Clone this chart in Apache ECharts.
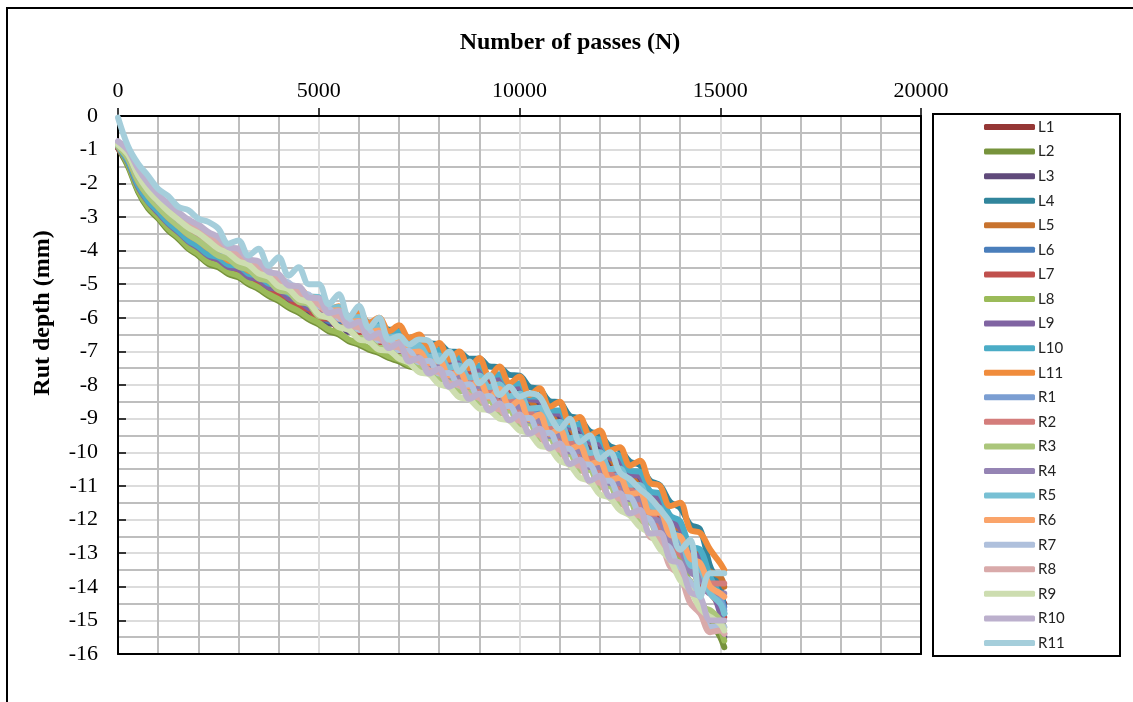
<!DOCTYPE html>
<html><head><meta charset="utf-8">
<script src="https://cdn.jsdelivr.net/npm/echarts@6/dist/echarts.min.js"></script>
<style>html,body{margin:0;padding:0;background:#fff}#c{width:1133px;height:702px}</style>
</head><body><div id="c"></div>
<script>
const passes = [0,250,500,750,1000,1250,1500,1750,2000,2250,2500,2750,3000,3250,3500,3750,4000,4250,4500,4750,5000,5250,5500,5750,6000,6250,6500,6750,7000,7250,7500,7750,8000,8250,8500,8750,9000,9250,9500,9750,10000,10250,10500,10750,11000,11250,11500,11750,12000,12250,12500,12750,13000,13250,13500,13750,14000,14250,14500,14750,15000,15100];
const xTicks = [0,5000,10000,15000,20000];
const yTicks = [0,-1,-2,-3,-4,-5,-6,-7,-8,-9,-10,-11,-12,-13,-14,-15,-16];
const names = ['L1','L2','L3','L4','L5','L6','L7','L8','L9','L10','L11','R1','R2','R3','R4','R5','R6','R7','R8','R9','R10','R11'];
const colors = ['#953735','#77933C','#604A7B','#31859C','#C8732E','#4A7EBB','#C0504D','#9BBB59','#8064A2','#4BACC6','#F08C3C','#7B9ED2','#D47D7B','#ABC67B','#9584B4','#78C0D4','#FAA46A','#AFC0DC','#D9AAAA','#CDDDB0','#BCB0CD','#A5CEDB'];
const xTitle = 'Number of passes (N)';
const yTitle = 'Rut depth (mm)';

const L1 = [-0.9,-1.35,-2.05,-2.5,-2.85,-3.12,-3.45,-3.65,-3.92,-4.08, -4.3,-4.4,-4.62,-4.7,-4.95,-5.02,-5.3,-5.36,-5.64,-5.7, -5.98,-6.02,-6.3,-6.32,-6.6,-6.55,-6.8,-6.75,-7.0,-7.0, -7.25,-7.22,-7.55,-7.42,-7.8,-7.7,-8.1,-8.0,-8.4,-8.28, -8.7,-8.62,-9.12,-9.05,-9.55,-9.5,-10.0,-9.95,-10.48,-10.42, -10.95,-10.9,-11.45,-11.45,-12.1,-12.2,-12.9,-13.05,-13.75,-13.9, -14.3,-14.5];
const L2 = [-0.95,-1.5,-2.25,-2.75,-3.05,-3.4,-3.65,-3.95,-4.15,-4.4, -4.5,-4.7,-4.8,-5.0,-5.15,-5.35,-5.5,-5.7,-5.85,-6.05, -6.2,-6.4,-6.5,-6.7,-6.8,-6.95,-7.05,-7.2,-7.3,-7.45, -7.5,-7.55,-7.8,-7.85,-8.1,-8.15,-8.35,-8.4,-8.6,-8.65, -8.85,-8.95,-9.3,-9.35,-9.75,-9.8,-10.2,-10.3,-10.7,-10.75, -11.15,-11.25,-11.7,-11.95,-12.5,-12.85,-13.5,-13.95,-14.6,-15.0, -15.5,-15.8];
const L3 = [-0.95,-1.42,-2.15,-2.63,-2.94,-3.27,-3.52,-3.81,-4.0,-4.24, -4.35,-4.58,-4.65,-4.9,-5.0,-5.24,-5.32,-5.58,-5.66,-5.92, -5.95,-6.18,-6.18,-6.42,-6.4,-6.62,-6.58,-6.8,-6.75,-7.05, -7.0,-7.22,-7.22,-7.48,-7.45,-7.72,-7.65,-7.98,-7.9,-8.15, -8.12,-8.52,-8.55,-8.95,-8.95,-9.38,-9.38,-9.82,-9.85,-10.28, -10.32,-10.75,-10.8,-11.35,-11.45,-12.05,-12.2,-12.85,-13.1,-13.8, -14.6,-15.5];
const L4 = [-0.85,-1.32,-2.03,-2.47,-2.8,-3.12,-3.37,-3.64,-3.82,-4.06, -4.18,-4.38,-4.45,-4.66,-4.72,-4.95,-5.02,-5.24,-5.28,-5.5, -5.55,-5.76,-5.74,-5.95,-5.93,-6.14,-6.13,-6.36,-6.35,-6.6, -6.58,-6.76,-6.78,-7.0,-7.02,-7.22,-7.22,-7.45,-7.47,-7.7, -7.72,-8.06,-8.12,-8.48,-8.52,-8.92,-9.0,-9.38,-9.47,-9.82, -9.92,-10.28,-10.38,-10.84,-10.98,-11.48,-11.65,-12.15,-12.3,-13.4, -14.0,-14.8];
const L5 = [-0.9,-1.23,-1.9,-2.32,-2.66,-2.96,-3.22,-3.47,-3.65,-3.87, -4.0,-4.25,-4.32,-4.56,-4.63,-4.88,-4.96,-5.22,-5.28,-5.55, -5.55,-5.78,-5.8,-6.03,-6.05,-6.27,-6.25,-6.5,-6.52,-6.76, -6.84,-7.05,-7.1,-7.33,-7.35,-7.57,-7.6,-7.86,-7.86,-8.12, -8.38,-8.44,-8.8,-8.84,-9.22,-9.27,-9.66,-9.7,-10.12,-10.17, -10.58,-10.64,-11.05,-11.2,-11.7,-11.88,-12.48,-12.68,-13.3,-13.55, -13.7,-14.0];
const L6 = [-0.9,-1.37,-2.1,-2.54,-2.9,-3.17,-3.48,-3.7,-3.95,-4.13, -4.32,-4.44,-4.64,-4.73,-4.98,-5.07,-5.33,-5.4,-5.67,-5.74, -5.9,-6.1,-6.13,-6.36,-6.38,-6.58,-6.6,-6.8,-6.83,-7.07, -7.06,-7.27,-7.3,-7.52,-7.53,-7.78,-7.8,-8.06,-8.03,-8.28, -8.4,-8.76,-8.8,-9.18,-9.22,-9.63,-9.66,-10.08,-10.12,-10.56, -10.6,-11.02,-11.06,-11.62,-11.7,-12.33,-12.5,-13.18,-13.3,-14.0, -14.3,-14.6];
const L7 = [-0.95,-1.39,-2.13,-2.59,-2.92,-3.23,-3.5,-3.76,-3.97,-4.19, -4.35,-4.45,-4.67,-4.74,-5.01,-5.08,-5.35,-5.42,-5.7,-5.75, -6.02,-6.03,-6.28,-6.28,-6.53,-6.49,-6.75,-6.72,-6.96,-6.97, -7.22,-7.18,-7.46,-7.4,-7.7,-7.66,-7.98,-7.94,-8.2,-8.18, -8.66,-8.72,-9.1,-9.14,-9.53,-9.58,-9.98,-10.03,-10.46,-10.5, -10.94,-10.98,-11.45,-11.58,-12.15,-12.36,-13.08,-13.28,-14.0,-14.2, -14.6,-14.9];
const L8 = [-0.9,-1.45,-2.2,-2.7,-3.0,-3.35,-3.6,-3.9,-4.1,-4.35, -4.45,-4.65,-4.75,-4.95,-5.1,-5.3,-5.45,-5.65,-5.8,-6.0, -6.15,-6.35,-6.45,-6.65,-6.75,-6.9,-7.0,-7.15,-7.25,-7.4, -7.45,-7.6,-7.65,-7.85,-7.85,-8.05,-8.1,-8.25,-8.3,-8.5, -8.6,-8.9,-9.0,-9.35,-9.45,-9.8,-9.9,-10.25,-10.35,-10.75, -10.85,-11.3,-11.45,-12.0,-12.2,-12.9,-13.2,-13.9,-14.4,-14.9, -15.3,-15.6];
const L9 = [-0.9,-1.37,-2.1,-2.55,-2.88,-3.2,-3.45,-3.73,-3.92,-4.16, -4.27,-4.49,-4.55,-4.78,-4.86,-5.09,-5.16,-5.4,-5.48,-5.71, -5.76,-5.97,-5.95,-6.17,-6.15,-6.35,-6.33,-6.56,-6.54,-6.8, -6.88,-7.08,-7.08,-7.3,-7.3,-7.52,-7.54,-7.78,-7.8,-8.06, -8.06,-8.42,-8.46,-8.84,-8.86,-9.26,-9.28,-9.7,-9.74,-10.16, -10.22,-10.65,-10.72,-11.27,-11.4,-12.02,-12.25,-12.95,-13.15,-13.9, -14.8,-15.4];
const L10 = [-0.9,-1.35,-2.06,-2.53,-2.84,-3.17,-3.42,-3.7,-3.88,-4.12, -4.2,-4.42,-4.45,-4.69,-4.75,-4.98,-5.03,-5.28,-5.34,-5.6, -5.6,-5.83,-5.8,-6.04,-6.0,-6.24,-6.2,-6.44,-6.42,-6.66, -6.75,-6.98,-6.96,-7.2,-7.18,-7.44,-7.42,-7.72,-7.68,-7.98, -7.95,-8.34,-8.35,-8.76,-8.76,-9.18,-9.17,-9.6,-9.62,-10.06, -10.1,-10.55,-10.58,-11.15,-11.24,-11.88,-12.05,-12.8,-12.9,-13.7, -14.3,-14.8];
const L11 = [-0.85,-1.26,-1.94,-2.37,-2.7,-3.02,-3.26,-3.53,-3.7,-3.94, -4.04,-4.3,-4.35,-4.6,-4.64,-4.9,-4.93,-5.2,-5.2,-5.5, -5.45,-5.75,-5.66,-5.96,-5.82,-6.16,-6.0,-6.4,-6.22,-6.6, -6.5,-6.95,-6.75,-7.25,-7.0,-7.5,-7.2,-7.75,-7.45,-7.95, -7.75,-8.3,-8.1,-8.65,-8.5,-9.1,-8.95,-9.5,-9.35,-9.95, -9.85,-10.4,-10.25,-10.9,-11.0,-11.6,-11.5,-12.3,-12.4,-12.9, -13.3,-13.5];
const R1 = [-0.85,-1.2,-1.84,-2.29,-2.62,-2.91,-3.17,-3.41,-3.59,-3.81, -3.95,-4.19,-4.26,-4.5,-4.58,-4.83,-4.9,-5.16,-5.22,-5.49, -5.54,-5.82,-5.83,-6.12,-6.12,-6.41,-6.4,-6.68,-6.67,-6.98, -6.97,-7.26,-7.26,-7.59,-7.58,-7.9,-7.88,-8.2,-8.15,-8.48, -8.45,-8.86,-8.88,-9.3,-9.3,-9.75,-9.75,-10.2,-10.23,-10.68, -10.7,-11.15,-11.18,-11.74,-11.8,-12.45,-12.6,-13.3,-13.45,-14.15, -14.4,-14.7];
const R2 = [-0.85,-1.17,-1.81,-2.22,-2.59,-2.84,-3.13,-3.34,-3.55,-3.73, -3.95,-4.05,-4.29,-4.37,-4.62,-4.7,-4.97,-5.03,-5.31,-5.36, -5.72,-5.76,-6.04,-6.06,-6.35,-6.35,-6.63,-6.62,-6.92,-6.92, -7.25,-7.22,-7.58,-7.55,-7.92,-7.86,-8.23,-8.16,-8.51,-8.44, -8.82,-8.82,-9.27,-9.24,-9.7,-9.7,-10.16,-10.15,-10.64,-10.64, -11.12,-11.12,-11.6,-11.7,-12.26,-12.4,-13.05,-13.2,-13.8,-13.9, -13.9,-13.9];
const R3 = [-0.9,-1.27,-1.93,-2.38,-2.71,-3.01,-3.27,-3.52,-3.71,-3.93, -4.15,-4.24,-4.48,-4.56,-4.83,-4.9,-5.18,-5.24,-5.53,-5.59, -5.95,-5.99,-6.28,-6.3,-6.6,-6.59,-6.9,-6.86,-7.17,-7.16, -7.5,-7.46,-7.84,-7.82,-8.2,-8.14,-8.54,-8.47,-8.84,-8.76, -9.18,-9.14,-9.62,-9.58,-10.06,-10.05,-10.55,-10.52,-11.04,-11.0, -11.55,-11.5,-12.05,-12.08,-12.72,-12.88,-13.66,-13.82,-14.58,-14.7, -15.0,-15.2];
const R4 = [-0.8,-1.14,-1.77,-2.17,-2.54,-2.79,-3.08,-3.28,-3.49,-3.67, -3.82,-4.08,-4.14,-4.4,-4.46,-4.73,-4.8,-5.08,-5.14,-5.43, -5.52,-5.84,-5.84,-6.15,-6.14,-6.45,-6.42,-6.72,-6.7,-7.04, -7.08,-7.4,-7.38,-7.75,-7.72,-8.06,-8.02,-8.38,-8.3,-8.66, -8.64,-9.06,-9.07,-9.52,-9.5,-9.98,-9.96,-10.44,-10.44,-10.92, -10.92,-11.4,-11.4,-11.98,-12.05,-12.72,-12.85,-13.55,-13.75,-14.2, -14.2,-14.2];
const R5 = [-0.85,-1.11,-1.71,-2.14,-2.47,-2.76,-3.01,-3.25,-3.41,-3.63, -3.77,-4.01,-4.08,-4.34,-4.4,-4.68,-4.74,-5.02,-5.08,-5.37, -5.38,-5.72,-5.68,-6.02,-5.98,-6.3,-6.26,-6.58,-6.54,-6.88, -6.83,-7.16,-7.12,-7.48,-7.42,-7.78,-7.72,-8.06,-7.98,-8.34, -8.25,-8.7,-8.68,-9.14,-9.1,-9.58,-9.54,-10.02,-10.0,-10.5, -10.48,-10.96,-10.98,-11.6,-11.66,-12.4,-12.52,-13.35,-13.45,-14.2, -14.5,-14.8];
const R6 = [-0.8,-1.08,-1.68,-2.08,-2.45,-2.69,-2.98,-3.17,-3.37,-3.55, -3.72,-3.98,-4.04,-4.31,-4.38,-4.66,-4.74,-5.02,-5.09,-5.36, -5.46,-5.79,-5.78,-6.12,-6.1,-6.43,-6.38,-6.72,-6.68,-7.03, -7.0,-7.35,-7.28,-7.72,-7.6,-8.05,-7.88,-8.38,-8.12,-8.66, -8.45,-9.02,-8.88,-9.45,-9.32,-9.9,-9.8,-10.35,-10.28,-10.82, -10.76,-11.25,-11.2,-11.8,-11.8,-12.45,-12.5,-13.15,-13.3,-14.0, -14.2,-14.3];
const R7 = [-0.8,-1.07,-1.64,-2.08,-2.41,-2.69,-2.93,-3.17,-3.33,-3.55, -3.78,-3.9,-4.14,-4.23,-4.5,-4.59,-4.88,-4.95,-5.25,-5.31, -5.66,-5.72,-6.02,-6.06,-6.36,-6.38,-6.68,-6.65,-6.97,-6.99, -7.32,-7.28,-7.66,-7.64,-8.02,-7.98,-8.38,-8.33,-8.67,-8.62, -9.0,-8.98,-9.45,-9.42,-9.88,-9.9,-10.35,-10.37,-10.84,-10.85, -11.32,-11.34,-11.88,-12.0,-12.62,-12.85,-13.6,-13.85,-14.6,-15.2, -15.2,-15.2];
const R8 = [-0.85,-1.1,-1.71,-2.1,-2.47,-2.72,-3.01,-3.2,-3.41,-3.59, -3.77,-4.03,-4.12,-4.38,-4.48,-4.75,-4.85,-5.12,-5.23,-5.5, -5.6,-5.9,-5.95,-6.25,-6.28,-6.57,-6.6,-6.85,-6.88,-7.2, -7.28,-7.57,-7.62,-7.96,-8.0,-8.32,-8.38,-8.7,-8.72,-9.04, -9.06,-9.44,-9.48,-9.9,-9.92,-10.38,-10.4,-10.88,-10.9,-11.36, -11.38,-11.86,-11.88,-12.52,-12.62,-13.4,-13.66,-14.48,-14.8,-15.35, -15.3,-15.4];
const R9 = [-0.85,-1.15,-1.77,-2.21,-2.54,-2.83,-3.08,-3.32,-3.49,-3.71, -3.95,-4.08,-4.32,-4.42,-4.68,-4.78,-5.06,-5.15,-5.44,-5.54, -5.9,-6.0,-6.28,-6.36,-6.64,-6.7,-6.95,-6.98,-7.22,-7.34, -7.62,-7.68,-7.98,-8.06,-8.36,-8.42,-8.7,-8.75,-9.0,-9.06, -9.35,-9.44,-9.8,-9.88,-10.25,-10.38,-10.75,-10.86,-11.25,-11.36, -11.72,-11.88,-12.22,-12.42,-12.88,-13.2,-13.8,-14.1,-14.65,-14.9, -15.1,-15.3];
const R10 = [-0.75,-1.02,-1.57,-2.0,-2.33,-2.61,-2.85,-3.08,-3.23,-3.45, -3.6,-3.9,-3.95,-4.26,-4.32,-4.64,-4.7,-5.04,-5.06,-5.4, -5.42,-5.86,-5.8,-6.24,-6.12,-6.6,-6.45,-6.9,-6.75,-7.3, -7.2,-7.66,-7.52,-8.05,-7.92,-8.42,-8.26,-8.76,-8.55,-9.05, -8.88,-9.45,-9.3,-9.88,-9.74,-10.35,-10.22,-10.85,-10.7,-11.32, -11.22,-11.82,-11.72,-12.42,-12.4,-13.2,-13.3,-14.15,-14.3,-15.0, -15.0,-15.0];
const R11 = [-0.05,-0.9,-1.42,-1.78,-2.17,-2.38,-2.7,-2.8,-3.05,-3.15, -3.35,-3.8,-3.7,-4.15,-3.95,-4.45,-4.2,-4.75,-4.5,-5.0, -5.0,-5.6,-5.3,-6.0,-5.65,-6.3,-6.0,-6.65,-6.55,-6.8, -6.65,-6.7,-7.3,-7.0,-7.6,-7.3,-7.95,-7.7,-8.3,-8.05, -8.35,-8.25,-8.35,-8.9,-9.3,-9.0,-9.7,-9.5,-10.2,-10.0, -10.6,-10.8,-11.1,-11.35,-11.7,-12.1,-12.9,-12.6,-14.3,-13.6, -13.6,-13.6];

const seriesValues = [L1,L2,L3,L4,L5,L6,L7,L8,L9,L10,L11,R1,R2,R3,R4,R5,R6,R7,R8,R9,R10,R11];

const serif = '"Liberation Serif", "Times New Roman", serif';
const chart = echarts.init(document.getElementById('c'), null, {renderer: 'canvas'});
const series = names.map((n, k) => ({
  name: n, type: 'line', xAxisIndex: 0, yAxisIndex: 0,
  symbol: 'none', smooth: 0.35, animation: false,
  lineStyle: {color: colors[k], width: 6, cap: 'round', join: 'round'},
  itemStyle: {color: colors[k]},
  data: passes.map((p, i) => [p, seriesValues[k][i]])
}));

chart.setOption({
  animation: false,
  backgroundColor: '#fff',
  grid: {left: 118, top: 116, width: 803, height: 538, containLabel: false},
  xAxis: [{
    type: 'value', position: 'top', min: xTicks[0], max: xTicks[xTicks.length-1], interval: 5000,
    axisLine: {onZero: false, lineStyle: {color: '#000', width: 2}},
    axisTick: {show: true, inside: false, length: 8, lineStyle: {color: '#000', width: 1.5}},
    axisLabel: {fontFamily: serif, fontSize: 22, color: '#000', margin: 14, formatter: v => String(v)},
    splitLine: {show: true, lineStyle: {color: '#dcdcdc', width: 2}},
    minorTick: {show: false, splitNumber: 5},
    minorSplitLine: {show: true, lineStyle: {color: '#bebebe', width: 2}}
  }, {
    type: 'value', position: 'bottom', min: 0, max: 20000, gridIndex: 0,
    axisLine: {onZero: false, lineStyle: {color: '#000', width: 2}},
    axisTick: {show: false}, axisLabel: {show: false}, splitLine: {show: false}
  }],
  yAxis: [{
    type: 'value', position: 'left', min: yTicks[yTicks.length-1], max: yTicks[0], interval: 1,
    axisLine: {onZero: false, lineStyle: {color: '#000', width: 2}},
    axisTick: {show: true, inside: true, length: 8, lineStyle: {color: '#000', width: 1.5}},
    axisLabel: {fontFamily: serif, fontSize: 22, color: '#000', margin: 20},
    splitLine: {show: true, lineStyle: {color: '#dcdcdc', width: 2}},
    minorTick: {show: false, splitNumber: 2},
    minorSplitLine: {show: true, lineStyle: {color: '#bebebe', width: 2}}
  }, {
    type: 'value', position: 'right', min: -16, max: 0, gridIndex: 0,
    axisLine: {onZero: false, lineStyle: {color: '#000', width: 2}},
    axisTick: {show: false}, axisLabel: {show: false}, splitLine: {show: false}
  }],
  legend: {
    orient: 'vertical', left: 984, top: 119, padding: 0,
    itemWidth: 51, itemHeight: 6, itemGap: 8.57,
    icon: 'roundRect',
    data: names,
    textStyle: {fontFamily: 'Lato, "Open Sans", sans-serif', fontSize: 15, color: '#222', lineHeight: 16, padding: [0,0,0,-2]}
  },
  graphic: [
    {type: 'rect', silent: true, z: 100, shape: {x: 933, y: 114, width: 187, height: 542}, style: {fill: 'none', stroke: '#000', lineWidth: 2}},
    {type: 'line', silent: true, z: 100, shape: {x1: 6, y1: 8, x2: 1133, y2: 8}, style: {stroke: '#000', lineWidth: 2}},
    {type: 'line', silent: true, z: 100, shape: {x1: 7, y1: 8, x2: 7, y2: 702}, style: {stroke: '#000', lineWidth: 2}},
    {type: 'text', silent: true, z: 100, x: 570, y: 43, style: {text: xTitle, font: 'bold 24px ' + serif, fill: '#000', align: 'center', verticalAlign: 'middle'}},
    {type: 'text', silent: true, z: 100, x: 43, y: 313, rotation: Math.PI / 2, style: {text: yTitle, font: 'bold 24px ' + serif, fill: '#000', align: 'center', verticalAlign: 'middle'}}
  ],
  series: series
});
</script>
</body></html>
